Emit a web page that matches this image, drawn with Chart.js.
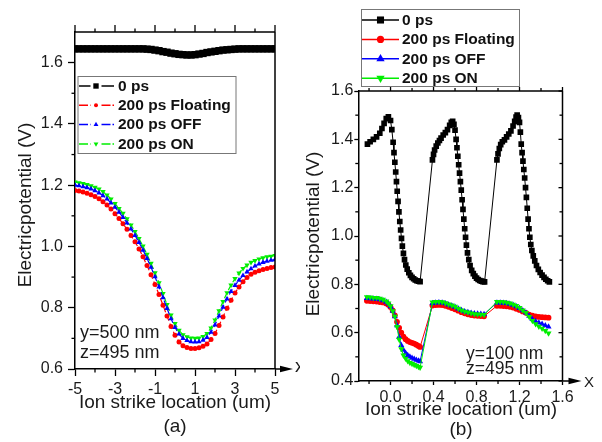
<!DOCTYPE html>
<html><head><meta charset="utf-8">
<script src="https://cdn.jsdelivr.net/npm/chart.js@4.4.0/dist/chart.umd.min.js"></script>
<style>
html,body{margin:0;padding:0;background:#fff;}
#wrap{position:relative;width:602px;height:442px;overflow:hidden;background:#fff;}
canvas{position:absolute;top:0;}
#ca{left:0;} #cb{left:300px;}
</style></head><body>
<div id="wrap"><canvas id="ca" width="300" height="442"></canvas><canvas id="cb" width="302" height="442"></canvas></div>
<script>
// ---------- Panel (a) data ----------
const X_A = [-5,-4.8,-4.6,-4.4,-4.2,-4,-3.8,-3.6,-3.4,-3.2,-3,-2.8,-2.6,-2.4,-2.2,-2,-1.8,-1.6,-1.4,-1.2,-1,-0.8,-0.6,-0.4,-0.2,0,0.2,0.4,0.6,0.8,1,1.2,1.4,1.6,1.8,2,2.2,2.4,2.6,2.8,3,3.2,3.4,3.6,3.8,4,4.2,4.4,4.6,4.8,5];
const A_0PS = [1.645,1.645,1.645,1.645,1.645,1.645,1.645,1.645,1.645,1.645,1.645,1.645,1.645,1.645,1.645,1.645,1.645,1.645,
  1.644,1.643,1.641,1.639,1.636,1.634,1.631,1.629,1.627,1.626,1.625,1.625,1.626,1.628,1.630,1.633,1.635,1.637,1.639,1.641,1.642,1.643,1.644,
  1.645,1.645,1.645,1.645,1.645,1.645,1.645,1.645,1.645,1.645];
const A_FLOAT = [1.183,1.181,1.178,1.174,1.169,1.163,1.156,1.146,1.135,1.122,1.107,1.091,1.074,1.056,1.036,1.015,0.992,0.966,0.938,0.908,0.876,0.843,0.808,0.773,0.739,0.710,0.688,0.676,0.670,0.667,0.667,0.669,0.674,0.682,0.696,0.716,0.742,0.770,0.798,0.824,0.848,0.868,0.885,0.899,0.909,0.916,0.921,0.925,0.928,0.931,0.933];
const A_OFF = [1.200,1.198,1.195,1.192,1.188,1.182,1.175,1.166,1.155,1.142,1.128,1.112,1.095,1.077,1.057,1.036,1.013,0.988,0.961,0.932,0.901,0.868,0.833,0.798,0.764,0.736,0.714,0.700,0.693,0.689,0.688,0.689,0.694,0.703,0.720,0.744,0.773,0.802,0.829,0.853,0.873,0.890,0.905,0.917,0.927,0.936,0.943,0.948,0.952,0.955,0.957];
const A_ON = [1.210,1.208,1.205,1.202,1.198,1.193,1.187,1.179,1.168,1.155,1.140,1.124,1.108,1.090,1.070,1.049,1.026,1.001,0.974,0.945,0.914,0.881,0.846,0.810,0.776,0.748,0.726,0.712,0.705,0.701,0.700,0.701,0.706,0.716,0.734,0.760,0.790,0.820,0.849,0.874,0.895,0.913,0.928,0.939,0.948,0.954,0.959,0.963,0.966,0.968,0.970];
const XTICKS_A = [-5,-3,-1,1,3,5];
const XMINOR_A = [-4,-2,0,2,4];
const YTICKS_A = [0.6,0.8,1.0,1.2,1.4,1.6];
const YMINOR_A = [0.7,0.9,1.1,1.3,1.5];

// ---------- Panel (b) data ----------
const XB_0PS = [-0.215,-0.19,-0.16,-0.13,-0.1,-0.08,-0.06,-0.04,-0.02,0,0.012,0.024,0.032,0.04,0.048,0.055,0.062,0.07,0.078,0.086,0.094,0.102,0.11,0.12,0.13,0.142,0.155,0.17,0.185,0.2,0.215,0.23,0.245,0.26,0.275,
  0.39,0.4,0.41,0.425,0.44,0.455,0.47,0.49,0.51,0.53,0.55,0.565,0.578,0.59,0.6,0.61,0.618,0.626,0.634,0.642,0.65,0.658,0.666,0.674,0.682,0.69,0.698,0.706,0.716,0.728,0.74,0.755,0.77,0.785,0.8,0.815,0.83,0.845,0.86,0.875,
  0.99,1.0,1.012,1.025,1.04,1.06,1.08,1.1,1.12,1.14,1.155,1.168,1.178,1.19,1.2,1.208,1.216,1.224,1.232,1.24,1.248,1.256,1.264,1.272,1.28,1.288,1.296,1.305,1.315,1.328,1.342,1.358,1.375,1.392,1.41,1.428,1.445,1.462,1.478];
const B_0PS = [1.380,1.390,1.400,1.410,1.425,1.445,1.466,1.486,1.493,1.478,1.440,1.388,1.345,1.305,1.265,1.225,1.185,1.143,1.100,1.060,1.025,0.990,0.958,0.928,0.902,0.880,0.863,0.848,0.837,0.829,0.823,0.818,0.815,0.813,0.811,
  1.315,1.338,1.356,1.372,1.385,1.395,1.405,1.418,1.428,1.440,1.458,1.470,1.475,1.462,1.438,1.400,1.365,1.330,1.295,1.260,1.225,1.190,1.150,1.110,1.070,1.030,0.995,0.962,0.930,0.902,0.878,0.858,0.844,0.834,0.826,0.820,0.816,0.813,0.811,0.810,
  1.315,1.340,1.362,1.378,1.390,1.398,1.410,1.422,1.435,1.455,1.474,1.492,1.500,1.490,1.470,1.430,1.380,1.345,1.310,1.275,1.240,1.200,1.160,1.115,1.070,1.030,0.995,0.965,0.940,0.918,0.897,0.878,0.862,0.849,0.838,0.829,0.821,0.815,0.810];
const XB = [-0.22,-0.19,-0.16,-0.13,-0.1,-0.07,-0.04,-0.02,0,0.02,0.04,0.06,0.08,0.1,0.12,0.14,0.16,0.18,0.2,0.22,0.24,0.26,0.275,
  0.39,0.42,0.45,0.48,0.51,0.54,0.57,0.6,0.63,0.66,0.69,0.72,0.75,0.78,0.81,0.84,0.87,
  0.99,1.02,1.05,1.08,1.11,1.14,1.17,1.2,1.23,1.26,1.29,1.32,1.35,1.38,1.41,1.44,1.47];
const B_FLOAT = [0.732,0.731,0.730,0.729,0.727,0.725,0.721,0.716,0.706,0.692,0.671,0.645,0.620,0.600,0.584,0.573,0.566,0.561,0.558,0.555,0.550,0.545,0.541,
  0.712,0.714,0.715,0.714,0.711,0.707,0.702,0.697,0.691,0.685,0.680,0.676,0.673,0.671,0.670,0.669,0.668,
  0.711,0.711,0.710,0.709,0.707,0.704,0.699,0.694,0.688,0.682,0.675,0.670,0.667,0.665,0.664,0.663,0.662];
const B_OFF = [0.742,0.741,0.740,0.739,0.737,0.733,0.727,0.720,0.708,0.690,0.667,0.630,0.582,0.548,0.528,0.516,0.507,0.500,0.495,0.491,0.487,0.484,0.481,
  0.722,0.724,0.725,0.724,0.721,0.716,0.711,0.706,0.699,0.693,0.688,0.684,0.681,0.679,0.678,0.677,0.676,
  0.724,0.724,0.723,0.722,0.719,0.714,0.708,0.701,0.692,0.682,0.669,0.656,0.647,0.641,0.636,0.630,0.624];
const B_ON = [0.748,0.747,0.745,0.744,0.741,0.737,0.730,0.722,0.710,0.690,0.667,0.625,0.572,0.532,0.507,0.493,0.483,0.476,0.471,0.467,0.463,0.459,0.456,
  0.726,0.728,0.728,0.727,0.723,0.718,0.713,0.708,0.700,0.693,0.688,0.684,0.680,0.677,0.676,0.675,0.674,
  0.728,0.728,0.727,0.725,0.722,0.717,0.711,0.703,0.693,0.682,0.666,0.649,0.636,0.626,0.617,0.608,0.598];
const XTICKS_B = [0,0.4,0.8,1.2,1.6];
const XMINOR_B = [-0.2,0.2,0.6,1.0,1.4];
const YTICKS_B = [0.4,0.6,0.8,1.0,1.2,1.4,1.6];
const YMINOR_B = [0.5,0.7,0.9,1.1,1.3,1.5];

const SERIES = ['0 ps','200 ps Floating','200 ps OFF','200 ps ON'];
const COLORS = ['#000000','#ff0000','#0000ff','#00ee00'];
const STYLES = ['rect','circle','triangle','triangle'];
const ROTS = [0,0,0,180];

// ---------- rendering ----------
const FF = '"Liberation Sans", Arial, sans-serif';
Chart.defaults.font.family = FF;
Chart.defaults.color = '#1a1a1a';

function pts(xs, ys){ return xs.map((x,i)=>({x:x, y:ys[i]})); }

const deco = {
  id:'deco',
  afterDraw(chart, args, o){
    const ctx = chart.ctx, ca = chart.chartArea, xs = chart.scales.x, ys = chart.scales.y;
    const line = (x1,y1,x2,y2)=>{ctx.beginPath();ctx.moveTo(x1,y1);ctx.lineTo(x2,y2);ctx.stroke();};
    ctx.save();
    ctx.strokeStyle = '#000';
    ctx.lineWidth = 1.5;
    line(ca.left, ca.top, ca.right, ca.top);
    line(ca.right, ca.top, ca.right, ca.bottom);
    ctx.lineWidth = 1.3;
    o.minorX.forEach(v=>{const x = xs.getPixelForValue(v); line(x, ca.bottom, x, ca.bottom+o.minLen); line(x, ca.top, x, ca.top-o.minLen);});
    o.majorX.forEach(v=>{const x = xs.getPixelForValue(v); line(x, ca.top, x, ca.top-o.majLen);});
    o.minorY.forEach(v=>{const y = ys.getPixelForValue(v); line(ca.left, y, ca.left-o.minLen, y); if(o.rightTicks) line(ca.right, y, ca.right-o.minLen, y);});
    if(o.rightTicks) o.majorY.forEach(v=>{const y = ys.getPixelForValue(v); line(ca.right, y, ca.right-o.majLen, y);});
    // axis arrow
    const ay = ca.bottom;
    ctx.lineWidth = 1.5;
    line(ca.right, ay, ca.right + o.arrowLen - 8, ay);
    ctx.fillStyle = '#000';
    ctx.beginPath();
    ctx.moveTo(ca.right + o.arrowLen, ay);
    ctx.lineTo(ca.right + o.arrowLen - 13, ay - 3.2);
    ctx.lineTo(ca.right + o.arrowLen - 13, ay + 3.2);
    ctx.closePath(); ctx.fill();
    // texts
    ctx.fillStyle = '#1a1a1a';
    ctx.textBaseline = 'middle';
    o.texts.forEach(t=>{
      ctx.font = t.font + ' ' + FF;
      ctx.textAlign = t.align || 'center';
      if (t.rot){ ctx.save(); ctx.translate(t.x,t.y); ctx.rotate(t.rot); ctx.fillText(t.s,0,0); ctx.restore(); }
      else ctx.fillText(t.s, t.x, t.y);
    });
    // legend
    const L = o.legend;
    ctx.fillStyle = '#fff';
    ctx.fillRect(L.x, L.y, L.w, L.h);
    ctx.strokeStyle = '#777'; ctx.lineWidth = 1;
    ctx.strokeRect(L.x + 0.5, L.y + 0.5, L.w, L.h);
    chart.data.datasets.forEach((ds, i)=>{
      const y = L.row0 + i*L.dy;
      const c = ds.borderColor;
      ctx.strokeStyle = c; ctx.fillStyle = c; ctx.lineWidth = L.lw;
      if (L.split){
        if (i>0) ctx.setLineDash([9,2]);
        line(L.sx0, y, L.mid - L.gap, y);
        line(L.mid + L.gap, y, L.sx1, y);
        ctx.setLineDash([]);
      } else {
        line(L.sx0, y, L.sx1, y);
      }
      Chart.helpers.drawPoint(ctx, {pointStyle: ds.pointStyle, rotation: ds.pointRotation || 0, radius: L.r[i], borderWidth: 0}, L.mid, y);
      ctx.fillStyle = '#111';
      ctx.font = L.font + ' ' + FF;
      ctx.textAlign = 'left';
      ctx.fillText(ds.label, L.tx, y + 0.5);
    });
    ctx.restore();
  }
};

function makeScales(c){
  return {
    x:{type:'linear', position:'bottom', min:c.xmin, max:c.xmax,
      afterBuildTicks: s=>{ s.ticks = c.xticks.map(v=>({value:v})); },
      afterFit: s=>{ s.height = c.xh; },
      ticks:{autoSkip:false, maxRotation:0, minRotation:0, padding:c.xpad, font:{size:16}, color:'#1a1a1a', callback: v=>c.xfmt(v)},
      grid:{drawOnChartArea:false, drawTicks:true, tickLength:c.majLen, tickColor:'#000', tickWidth:1.3},
      border:{display:true, color:'#000', width:1.5}},
    y:{type:'linear', position:'left', min:c.ymin, max:c.ymax,
      afterBuildTicks: s=>{ s.ticks = c.yticks.map(v=>({value:v})); },
      afterFit: s=>{ s.width = c.yw; },
      ticks:{autoSkip:false, padding:c.ypad, font:{size:16}, color:'#1a1a1a', callback: v=>Number(v).toFixed(1)},
      grid:{drawOnChartArea:false, drawTicks:true, tickLength:c.majLen, tickColor:'#000', tickWidth:1.3},
      border:{display:true, color:'#000', width:1.5}}
  };
}

// Panel (a)
const dsA = [A_0PS, A_FLOAT, A_OFF, A_ON].map((arr,i)=>({
  label: SERIES[i], data: pts(X_A, arr), borderColor: COLORS[i], backgroundColor: COLORS[i],
  borderWidth: i===0 ? 2 : 1.2, borderDash: i===0 ? [] : [6,3],
  pointStyle: STYLES[i], pointRotation: ROTS[i], pointRadius: i===0 ? 5.2 : (i===1 ? 2.5 : 3.1),
  pointBorderWidth: 0, pointBackgroundColor: COLORS[i], pointBorderColor: COLORS[i],
  order: [3,2,0,1][i], tension: 0
}));
new Chart(document.getElementById('ca'), {
  type:'line',
  data:{datasets: dsA},
  options:{
    responsive:false, animation:false, events:[],
    layout:{padding:{left:0, top:32, right:25, bottom:0}},
    scales: makeScales({xmin:-5, xmax:5, ymin:0.6, ymax:1.7, xticks:XTICKS_A, yticks:YTICKS_A, xh:73, yw:75, xpad:4, ypad:5, majLen:7, xfmt: v=>String(v)}),
    plugins:{legend:{display:false}, tooltip:{enabled:false},
      deco:{minorX:XMINOR_A, majorX:XTICKS_A, minorY:YMINOR_A, majorY:YTICKS_A, minLen:3.5, majLen:7, rightTicks:false, arrowLen:18,
        texts:[
          {s:'Electricpotential (V)', x:26, y:205, rot:-Math.PI/2, font:'19px'},
          {s:'Ion strike location (um)', x:175, y:403, font:'19px'},
          {s:'(a)', x:175, y:427, font:'19px'},
          {s:'y=500 nm', x:80, y:333, align:'left', font:'18px'},
          {s:'z=495 nm', x:80, y:353, align:'left', font:'18px'},
          {s:'x', x:295, y:367, align:'left', font:'19px'}
        ],
        legend:{x:77.5, y:76, w:158, h:77, row0:86, dy:19.3, sx0:79, sx1:114, mid:96, gap:5.5, split:true, lw:1.5, r:[3.8,2,2.8,2.8], tx:118, font:'bold 15.5px'}
      }}
  },
  plugins:[deco]
});

// Panel (b)
const dsB = [[XB_0PS,B_0PS],[XB,B_FLOAT],[XB,B_OFF],[XB,B_ON]].map((p,i)=>({
  label: SERIES[i], data: pts(p[0], p[1]), borderColor: COLORS[i], backgroundColor: COLORS[i],
  borderWidth: 1, pointStyle: STYLES[i], pointRotation: ROTS[i], pointRadius: i===0 ? 4 : (i===1 ? 2.9 : 3.5),
  pointBorderWidth: 0, pointBackgroundColor: COLORS[i], pointBorderColor: COLORS[i],
  order: [3,2,1,0][i], tension: 0
}));
new Chart(document.getElementById('cb'), {
  type:'line',
  data:{datasets: dsB},
  options:{
    responsive:false, animation:false, events:[],
    layout:{padding:{left:0, top:91, right:39.5, bottom:0}},
    scales: makeScales({xmin:-0.3, xmax:1.6, ymin:0.4, ymax:1.6, xticks:XTICKS_B, yticks:YTICKS_B, xh:61, yw:58.3, xpad:3, ypad:1, majLen:4, xfmt: v=>Number(v).toFixed(1)}),
    plugins:{legend:{display:false}, tooltip:{enabled:false},
      deco:{minorX:XMINOR_B, majorX:XTICKS_B, minorY:YMINOR_B, majorY:YTICKS_B, minLen:3, majLen:4, rightTicks:true, arrowLen:19,
        texts:[
          {s:'Electricpotential (V)', x:14, y:234, rot:-Math.PI/2, font:'19px'},
          {s:'Ion strike location (um)', x:161, y:410, font:'19px'},
          {s:'(b)', x:161, y:430, font:'19px'},
          {s:'y=100 nm', x:166, y:354, align:'left', font:'17.5px'},
          {s:'z=495 nm', x:166, y:369.5, align:'left', font:'17.5px'},
          {s:'X', x:284, y:383, align:'left', font:'15px'}
        ],
        legend:{x:61, y:9, w:158, h:77, row0:20, dy:19.4, sx0:62, sx1:99, mid:80.5, gap:0, split:false, lw:1.5, r:[5,3.6,4.8,4.8], tx:102, font:'bold 15.5px'}
      }}
  },
  plugins:[deco]
});
</script>
</body></html>
